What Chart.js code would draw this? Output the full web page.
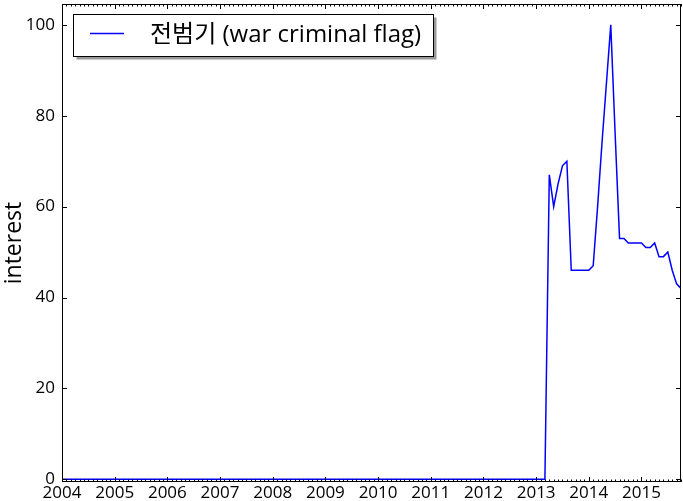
<!DOCTYPE html>
<html>
<head>
<meta charset="utf-8">
<script src="https://cdn.jsdelivr.net/npm/chart.js@4.4.1/dist/chart.umd.min.js"></script>
<style>
  html, body { margin: 0; padding: 0; background: #fff; }
  #wrap { width: 683px; height: 501px; position: relative; }
</style>
</head>
<body>
<div id="wrap"><canvas id="myChart"></canvas></div>
<script>
// monthly interest, Jan 2004 .. Oct 2015
const startYear = 2004;
const seriesLabel = '전범기 (war criminal flag)';
const interest = [
  0, 0, 0, 0, 0, 0, 0, 0, 0, 0, 0, 0,   // 2004
  0, 0, 0, 0, 0, 0, 0, 0, 0, 0, 0, 0,   // 2005
  0, 0, 0, 0, 0, 0, 0, 0, 0, 0, 0, 0,   // 2006
  0, 0, 0, 0, 0, 0, 0, 0, 0, 0, 0, 0,   // 2007
  0, 0, 0, 0, 0, 0, 0, 0, 0, 0, 0, 0,   // 2008
  0, 0, 0, 0, 0, 0, 0, 0, 0, 0, 0, 0,   // 2009
  0, 0, 0, 0, 0, 0, 0, 0, 0, 0, 0, 0,   // 2010
  0, 0, 0, 0, 0, 0, 0, 0, 0, 0, 0, 0,   // 2011
  0, 0, 0, 0, 0, 0, 0, 0, 0, 0, 0, 0,   // 2012
  0, 0, 0, 67, 60, 65, 69, 70, 46, 46, 46, 46,   // 2013
  46, 47, 60, 74, 87, 100, 76, 53, 53, 52, 52, 52, // 2014
  52, 51, 51, 52, 49, 49, 50, 46, 43, 42          // 2015
];
const yearTicks = [2004, 2005, 2006, 2007, 2008, 2009, 2010, 2011, 2012, 2013, 2014, 2015];
const yTicks = [0, 20, 40, 60, 80, 100];

const points = interest.map(function(v, i) {
    return { x: startYear + i / 12, y: v };
});
const xMax = points[points.length - 1].x;

const fontFamily = "'Open Sans', 'Noto Sans CJK KR', sans-serif";

// inward tick marks on all four sides, with monthly minor ticks on x
const tickMarks = {
    id: 'tickMarks',
    afterDatasetsDraw: function(chart) {
        const ctx = chart.ctx;
        const a = chart.chartArea;
        const xs = chart.scales.x;
        const ys = chart.scales.y;
        ctx.save();
        ctx.strokeStyle = '#000';
        ctx.lineWidth = 1;
        ctx.beginPath();
        for (let m = 0; m <= interest.length; m++) {
            const v = startYear + m / 12;
            if (v > xMax + 1e-9) break;
            const px = Math.round(xs.getPixelForValue(v)) + 0.5;
            const len = (m % 12 === 0) ? 5 : 2.5;
            ctx.moveTo(px, a.bottom);
            ctx.lineTo(px, a.bottom - len);
            ctx.moveTo(px, a.top);
            ctx.lineTo(px, a.top + len);
        }
        yTicks.forEach(function(v) {
            const py = Math.round(ys.getPixelForValue(v)) + 0.5;
            ctx.moveTo(a.left, py);
            ctx.lineTo(a.left + 5, py);
            ctx.moveTo(a.right, py);
            ctx.lineTo(a.right - 5, py);
        });
        ctx.stroke();
        ctx.strokeRect(a.left + 0.5, a.top + 0.5, a.right - a.left - 1, a.bottom - a.top - 1);
        ctx.restore();
    }
};

// boxed legend with shadow, inside the plot area
const boxLegend = {
    id: 'boxLegend',
    afterDraw: function(chart) {
        const ctx = chart.ctx;
        const ds = chart.data.datasets[0];
        const x0 = 73.5, y0 = 14.5, w = 360, h = 42;
        ctx.save();
        ctx.fillStyle = '#999';
        ctx.fillRect(x0 + 3, y0 + 3, w, h);
        ctx.fillStyle = '#fff';
        ctx.fillRect(x0, y0, w, h);
        ctx.strokeStyle = '#000';
        ctx.lineWidth = 1;
        ctx.strokeRect(x0, y0, w, h);
        ctx.strokeStyle = '#0000ff';
        ctx.lineWidth = 1.5;
        ctx.beginPath();
        ctx.moveTo(90, 33.5);
        ctx.lineTo(124, 33.5);
        ctx.stroke();
        ctx.fillStyle = '#000';
        ctx.font = '24px ' + fontFamily;
        ctx.textBaseline = 'middle';
        ctx.fillText(ds.label, 150, 35);
        ctx.restore();
    }
};

const ctx = document.getElementById('myChart').getContext('2d');
const myChart = new Chart(ctx, {
    type: 'line',
    data: {
        datasets: [{
            label: seriesLabel,
            data: points,
            borderColor: '#0000ff',
            borderWidth: 1.5,
            pointRadius: 0,
            tension: 0,
            fill: false
        }]
    },
    options: {
        responsive: true,
        maintainAspectRatio: false,
        animation: false,
        layout: { padding: { top: 4, right: 2, left: 0, bottom: 0 } },
        scales: {
            x: {
                type: 'linear',
                min: startYear,
                max: xMax,
                afterBuildTicks: function(scale) {
                    scale.ticks = yearTicks.map(function(v) { return { value: v }; });
                },
                afterFit: function(scale) {
                    scale.height = 19;
                    scale.paddingLeft = 0;
                    scale.paddingRight = 0;
                },
                grid: { display: false, drawTicks: false },
                border: { display: false },
                ticks: {
                    color: '#000',
                    padding: 1,
                    maxRotation: 0,
                    autoSkip: false,
                    font: { family: fontFamily, size: 17 },
                    callback: function(v) { return String(v); }
                }
            },
            y: {
                min: -0.6,
                max: 104.6,
                afterBuildTicks: function(scale) {
                    scale.ticks = yTicks.map(function(v) { return { value: v }; });
                },
                afterFit: function(scale) {
                    scale.width = 62;
                    scale.paddingTop = 0;
                    scale.paddingBottom = 0;
                },
                grid: { display: false, drawTicks: false },
                border: { display: false },
                title: {
                    display: true,
                    text: 'interest',
                    color: '#000',
                    padding: { top: 1, bottom: 0 },
                    font: { family: fontFamily, size: 23 }
                },
                ticks: {
                    color: '#000',
                    padding: 7,
                    font: { family: fontFamily, size: 17 }
                }
            }
        },
        plugins: {
            legend: { display: false },
            tooltip: { enabled: false }
        }
    },
    plugins: [tickMarks, boxLegend]
});
</script>
</body>
</html>
